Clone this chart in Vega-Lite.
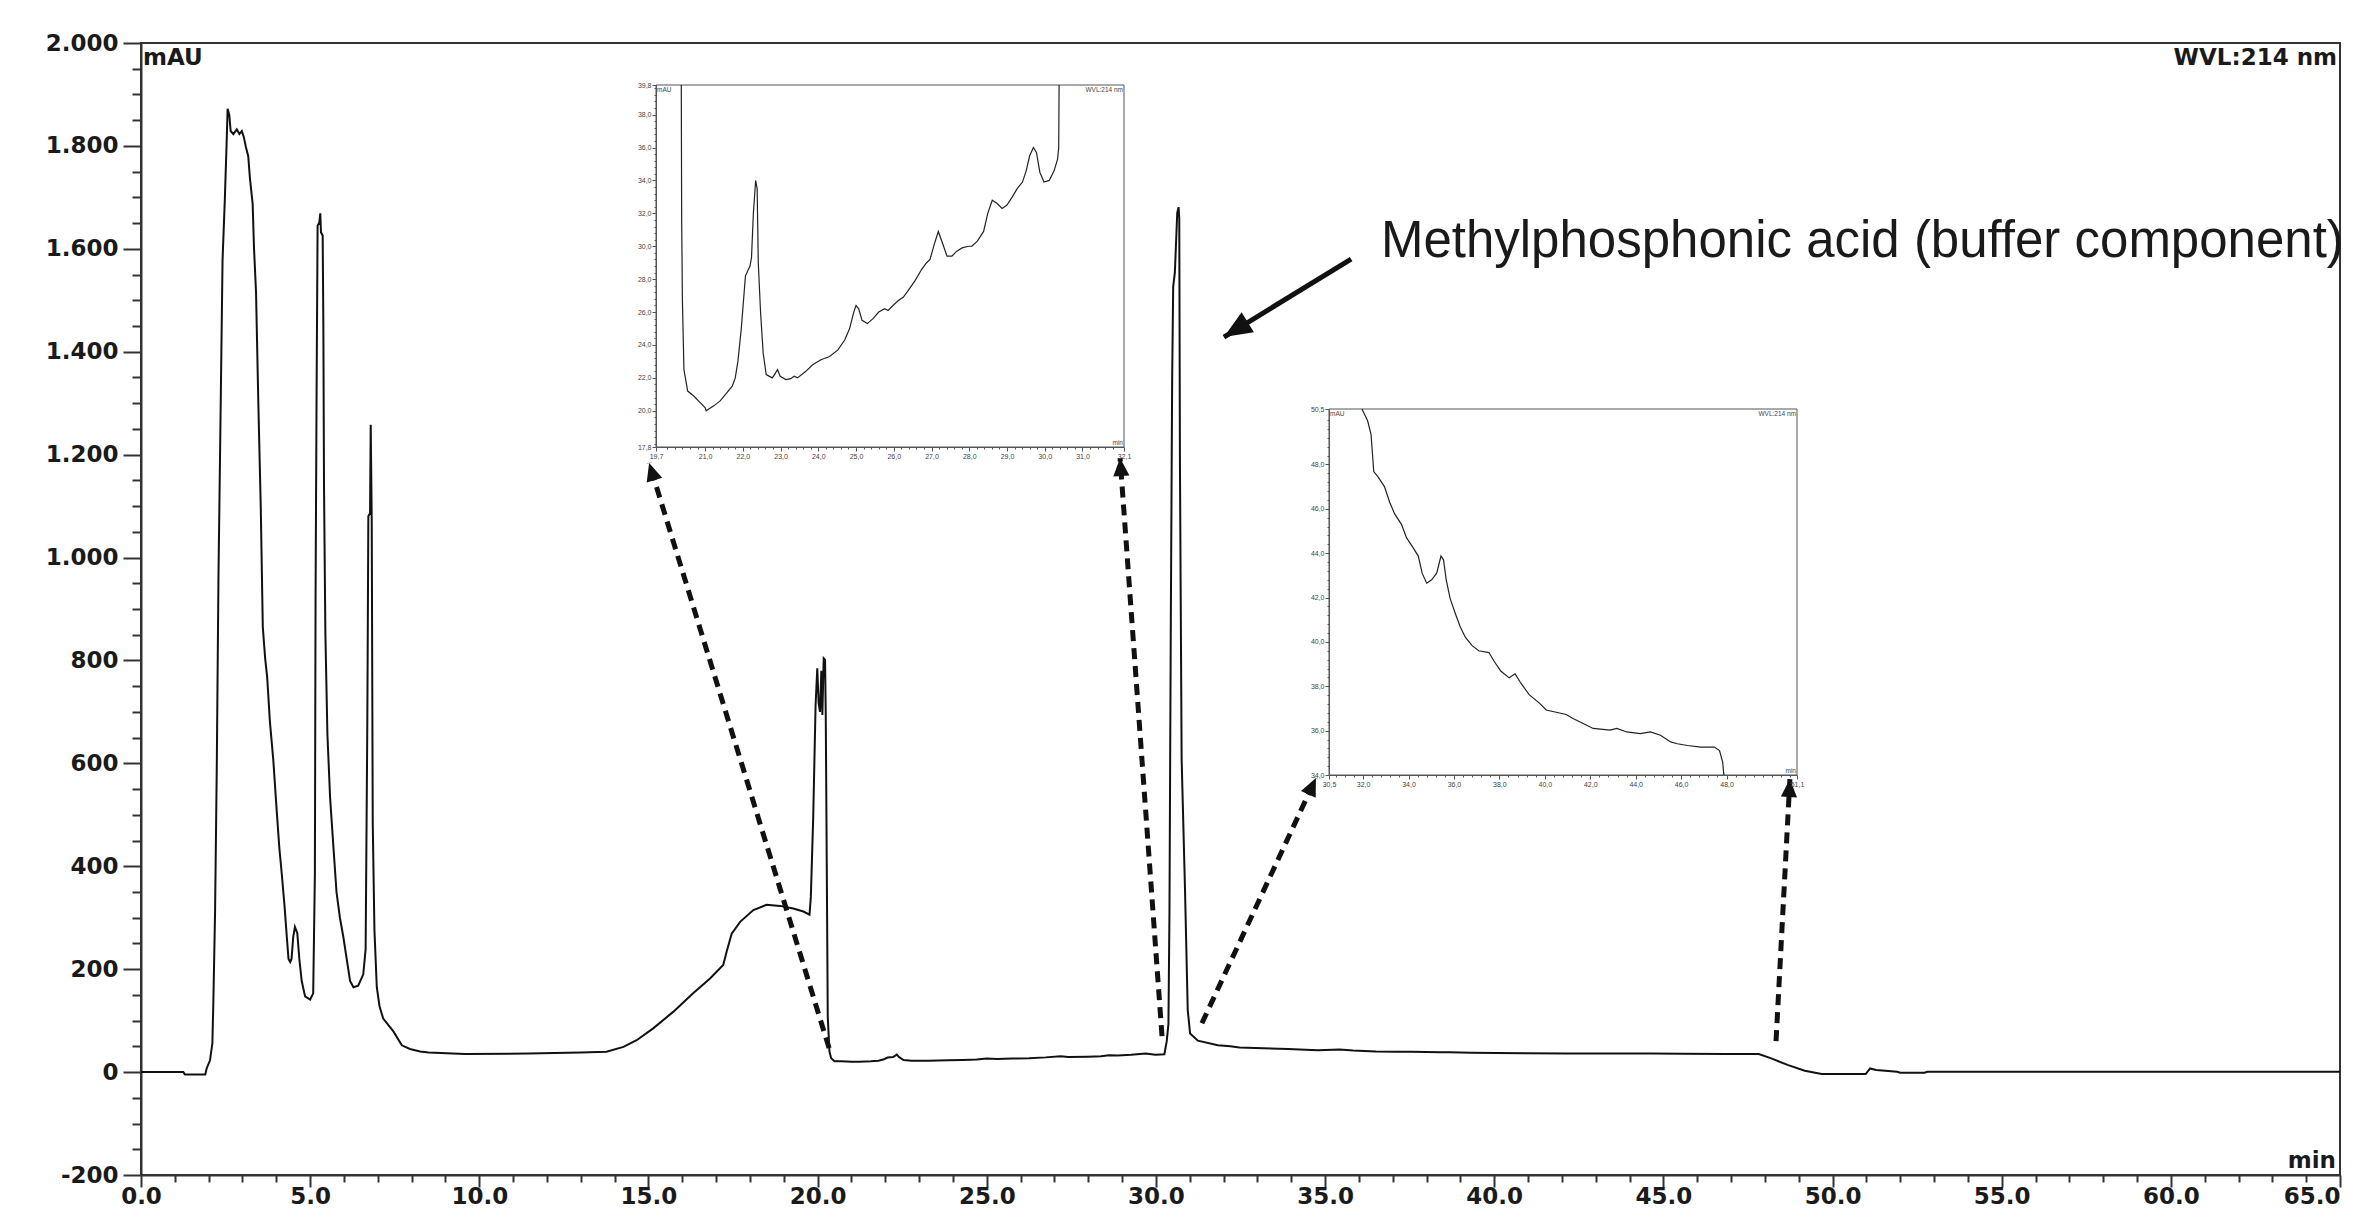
{
  "$schema": "https://vega.github.io/schema/vega-lite/v6.json",
  "width": 2199,
  "height": 1132,
  "autosize": {"type": "none"},
  "padding": {"left": 141, "top": 43, "right": 18, "bottom": 34},
  "background": "white",
  "config": {
    "view": {"stroke": "#333", "strokeWidth": 2},
    "axis": {
      "grid": false,
      "domainColor": "#333",
      "tickColor": "#333",
      "labelColor": "#1a1a1a",
      "labelFont": "DejaVu Sans",
      "labelFontWeight": "bold",
      "labelFontSize": 23,
      "domainWidth": 2,
      "tickWidth": 2,
      "labelOverlap": false,
      "labelFlush": false,
      "labelBound": false
    }
  },
  "datasets": {
    "trace": [
      {"t": 0, "v": 0}, {"t": 1.25, "v": 0}, {"t": 1.3, "v": -4.5}, {"t": 1.9, "v": -4.5},
      {"t": 1.94, "v": 7}, {"t": 2.04, "v": 23}, {"t": 2.11, "v": 56}, {"t": 2.14, "v": 140},
      {"t": 2.19, "v": 313}, {"t": 2.24, "v": 595}, {"t": 2.29, "v": 963}, {"t": 2.36, "v": 1319},
      {"t": 2.41, "v": 1577}, {"t": 2.48, "v": 1700}, {"t": 2.53, "v": 1804}, {"t": 2.56, "v": 1872},
      {"t": 2.61, "v": 1860}, {"t": 2.65, "v": 1829}, {"t": 2.73, "v": 1823}, {"t": 2.83, "v": 1832},
      {"t": 2.91, "v": 1823}, {"t": 2.98, "v": 1829}, {"t": 3.04, "v": 1817}, {"t": 3.10, "v": 1798},
      {"t": 3.17, "v": 1780}, {"t": 3.22, "v": 1737}, {"t": 3.30, "v": 1688}, {"t": 3.34, "v": 1602},
      {"t": 3.40, "v": 1516}, {"t": 3.47, "v": 1295}, {"t": 3.54, "v": 1098}, {"t": 3.60, "v": 865},
      {"t": 3.67, "v": 804}, {"t": 3.73, "v": 767}, {"t": 3.81, "v": 681}, {"t": 3.91, "v": 607},
      {"t": 4.01, "v": 509}, {"t": 4.09, "v": 435}, {"t": 4.16, "v": 386}, {"t": 4.24, "v": 325},
      {"t": 4.31, "v": 263}, {"t": 4.36, "v": 220}, {"t": 4.41, "v": 214}, {"t": 4.45, "v": 220},
      {"t": 4.50, "v": 263}, {"t": 4.55, "v": 282}, {"t": 4.62, "v": 270}, {"t": 4.68, "v": 220},
      {"t": 4.75, "v": 177}, {"t": 4.85, "v": 147}, {"t": 5.00, "v": 141}, {"t": 5.09, "v": 153},
      {"t": 5.14, "v": 386}, {"t": 5.16, "v": 926}, {"t": 5.19, "v": 1319}, {"t": 5.22, "v": 1645},
      {"t": 5.27, "v": 1651}, {"t": 5.30, "v": 1669}, {"t": 5.32, "v": 1632}, {"t": 5.37, "v": 1626},
      {"t": 5.39, "v": 1454}, {"t": 5.41, "v": 1135}, {"t": 5.45, "v": 853}, {"t": 5.51, "v": 656},
      {"t": 5.59, "v": 533}, {"t": 5.69, "v": 435}, {"t": 5.78, "v": 349}, {"t": 5.88, "v": 300},
      {"t": 5.98, "v": 263}, {"t": 6.08, "v": 220}, {"t": 6.18, "v": 177}, {"t": 6.28, "v": 165},
      {"t": 6.42, "v": 168}, {"t": 6.57, "v": 190}, {"t": 6.64, "v": 239}, {"t": 6.69, "v": 681},
      {"t": 6.72, "v": 1080}, {"t": 6.77, "v": 1086}, {"t": 6.79, "v": 1258}, {"t": 6.82, "v": 1074},
      {"t": 6.85, "v": 484}, {"t": 6.90, "v": 276}, {"t": 6.97, "v": 165}, {"t": 7.05, "v": 128},
      {"t": 7.16, "v": 104}, {"t": 7.46, "v": 79}, {"t": 7.71, "v": 52}, {"t": 7.95, "v": 45},
      {"t": 8.25, "v": 40}, {"t": 8.5, "v": 38}, {"t": 9.58, "v": 35}, {"t": 11.45, "v": 36},
      {"t": 13.0, "v": 38}, {"t": 13.76, "v": 39.5}, {"t": 14.26, "v": 49}, {"t": 14.65, "v": 62},
      {"t": 15.14, "v": 85}, {"t": 15.73, "v": 117}, {"t": 16.32, "v": 153}, {"t": 16.82, "v": 182},
      {"t": 17.21, "v": 208}, {"t": 17.31, "v": 234}, {"t": 17.46, "v": 269}, {"t": 17.71, "v": 292},
      {"t": 18.1, "v": 315}, {"t": 18.49, "v": 325}, {"t": 18.89, "v": 323}, {"t": 19.28, "v": 318},
      {"t": 19.58, "v": 312}, {"t": 19.76, "v": 306}, {"t": 19.8, "v": 341}, {"t": 19.87, "v": 496},
      {"t": 19.94, "v": 713}, {"t": 19.99, "v": 785}, {"t": 20.03, "v": 717}, {"t": 20.07, "v": 700},
      {"t": 20.11, "v": 780}, {"t": 20.14, "v": 694}, {"t": 20.18, "v": 804}, {"t": 20.22, "v": 801},
      {"t": 20.24, "v": 700}, {"t": 20.27, "v": 406}, {"t": 20.30, "v": 107}, {"t": 20.35, "v": 40},
      {"t": 20.4, "v": 27}, {"t": 20.5, "v": 21.2}, {"t": 20.7, "v": 20.9}, {"t": 21.0, "v": 20.2},
      {"t": 21.23, "v": 20.3}, {"t": 21.58, "v": 21.1}, {"t": 21.8, "v": 22}, {"t": 21.96, "v": 25},
      {"t": 22.07, "v": 28.2}, {"t": 22.23, "v": 29.3}, {"t": 22.34, "v": 34}, {"t": 22.41, "v": 29},
      {"t": 22.54, "v": 23.5}, {"t": 22.78, "v": 22}, {"t": 23.27, "v": 21.95}, {"t": 23.85, "v": 22.8},
      {"t": 24.3, "v": 23.3}, {"t": 24.7, "v": 24.3}, {"t": 25.0, "v": 26.4}, {"t": 25.3, "v": 25.3},
      {"t": 25.76, "v": 26.2}, {"t": 26.25, "v": 26.9}, {"t": 26.74, "v": 28.6}, {"t": 27.18, "v": 30.9},
      {"t": 27.41, "v": 29.4}, {"t": 27.98, "v": 30.0}, {"t": 28.38, "v": 30.9}, {"t": 28.61, "v": 32.8},
      {"t": 28.87, "v": 32.3}, {"t": 29.27, "v": 33.5}, {"t": 29.7, "v": 36}, {"t": 29.98, "v": 33.9},
      {"t": 30.25, "v": 34.6}, {"t": 30.32, "v": 60}, {"t": 30.37, "v": 94}, {"t": 30.40, "v": 309},
      {"t": 30.44, "v": 873}, {"t": 30.48, "v": 1349}, {"t": 30.51, "v": 1526}, {"t": 30.56, "v": 1554},
      {"t": 30.63, "v": 1670}, {"t": 30.67, "v": 1681}, {"t": 30.69, "v": 1659}, {"t": 30.71, "v": 1183},
      {"t": 30.76, "v": 608}, {"t": 30.86, "v": 354}, {"t": 30.94, "v": 121}, {"t": 31.01, "v": 75},
      {"t": 31.24, "v": 61}, {"t": 31.83, "v": 52}, {"t": 32.2, "v": 50}, {"t": 32.47, "v": 47.7},
      {"t": 33.17, "v": 46.3}, {"t": 33.91, "v": 44.7}, {"t": 34.6, "v": 43.1}, {"t": 34.8, "v": 42.65},
      {"t": 35.43, "v": 43.9}, {"t": 35.83, "v": 42}, {"t": 36.5, "v": 40.2}, {"t": 37.09, "v": 39.6},
      {"t": 37.54, "v": 39.5}, {"t": 38.43, "v": 38.4}, {"t": 38.69, "v": 38.6}, {"t": 39.31, "v": 37.6},
      {"t": 40.06, "v": 36.9}, {"t": 40.94, "v": 36.7}, {"t": 42.13, "v": 36.1}, {"t": 43.17, "v": 36.1},
      {"t": 44.65, "v": 35.9}, {"t": 45.54, "v": 35.5}, {"t": 46.87, "v": 35.3}, {"t": 47.82, "v": 35.0},
      {"t": 48.19, "v": 26.6}, {"t": 48.69, "v": 13.6}, {"t": 49.18, "v": 2.6}, {"t": 49.68, "v": -3.9},
      {"t": 50.98, "v": -3.9}, {"t": 51.11, "v": 7.1}, {"t": 51.29, "v": 3.9}, {"t": 51.91, "v": 0.6},
      {"t": 52.0, "v": -1.3}, {"t": 52.72, "v": -1.3}, {"t": 52.8, "v": 0.5}, {"t": 65, "v": 0.5}
    ],
    "inset1": [
      {"t": 20.37, "v": 39.8}, {"t": 20.38, "v": 31.6}, {"t": 20.4, "v": 26.7}, {"t": 20.44, "v": 22.5},
      {"t": 20.54, "v": 21.2}, {"t": 20.7, "v": 20.9}, {"t": 20.87, "v": 20.5}, {"t": 21.0, "v": 20.2},
      {"t": 21.03, "v": 20.0}, {"t": 21.23, "v": 20.3}, {"t": 21.4, "v": 20.6}, {"t": 21.58, "v": 21.1},
      {"t": 21.72, "v": 21.5}, {"t": 21.8, "v": 22.0}, {"t": 21.87, "v": 23.0}, {"t": 21.96, "v": 25.0},
      {"t": 22.07, "v": 28.2}, {"t": 22.19, "v": 28.8}, {"t": 22.23, "v": 29.3}, {"t": 22.28, "v": 32.0},
      {"t": 22.34, "v": 34.0}, {"t": 22.38, "v": 33.5}, {"t": 22.41, "v": 29.0}, {"t": 22.47, "v": 26.0},
      {"t": 22.54, "v": 23.5}, {"t": 22.62, "v": 22.2}, {"t": 22.78, "v": 22.0}, {"t": 22.84, "v": 22.2},
      {"t": 22.92, "v": 22.5}, {"t": 22.99, "v": 22.1}, {"t": 23.14, "v": 21.9}, {"t": 23.27, "v": 21.95},
      {"t": 23.36, "v": 22.1}, {"t": 23.45, "v": 22.0}, {"t": 23.67, "v": 22.4}, {"t": 23.85, "v": 22.8},
      {"t": 24.07, "v": 23.1}, {"t": 24.3, "v": 23.3}, {"t": 24.52, "v": 23.7}, {"t": 24.7, "v": 24.3},
      {"t": 24.83, "v": 25.0}, {"t": 24.94, "v": 26.0}, {"t": 25.0, "v": 26.4}, {"t": 25.07, "v": 26.2},
      {"t": 25.16, "v": 25.5}, {"t": 25.3, "v": 25.3}, {"t": 25.45, "v": 25.6}, {"t": 25.6, "v": 26.0},
      {"t": 25.76, "v": 26.2}, {"t": 25.85, "v": 26.1}, {"t": 25.98, "v": 26.4}, {"t": 26.12, "v": 26.7},
      {"t": 26.25, "v": 26.9}, {"t": 26.38, "v": 27.3}, {"t": 26.56, "v": 27.9}, {"t": 26.74, "v": 28.6},
      {"t": 26.87, "v": 29.0}, {"t": 26.96, "v": 29.2}, {"t": 27.07, "v": 30.1}, {"t": 27.18, "v": 30.9},
      {"t": 27.29, "v": 30.2}, {"t": 27.41, "v": 29.4}, {"t": 27.54, "v": 29.4}, {"t": 27.67, "v": 29.7},
      {"t": 27.81, "v": 29.9}, {"t": 27.98, "v": 30.0}, {"t": 28.07, "v": 30.0}, {"t": 28.21, "v": 30.3},
      {"t": 28.38, "v": 30.9}, {"t": 28.49, "v": 32.0}, {"t": 28.61, "v": 32.8}, {"t": 28.74, "v": 32.6},
      {"t": 28.87, "v": 32.3}, {"t": 29.0, "v": 32.5}, {"t": 29.14, "v": 33.0}, {"t": 29.27, "v": 33.5},
      {"t": 29.41, "v": 33.9}, {"t": 29.51, "v": 34.6}, {"t": 29.6, "v": 35.5}, {"t": 29.7, "v": 36.0},
      {"t": 29.78, "v": 35.7}, {"t": 29.87, "v": 34.5}, {"t": 29.98, "v": 33.9}, {"t": 30.12, "v": 34.0},
      {"t": 30.25, "v": 34.6}, {"t": 30.34, "v": 35.3}, {"t": 30.37, "v": 36.0}, {"t": 30.38, "v": 39.8}
    ],
    "inset2": [
      {"t": 31.95, "v": 50.5}, {"t": 32.2, "v": 49.97}, {"t": 32.35, "v": 49.36}, {"t": 32.47, "v": 47.68},
      {"t": 32.65, "v": 47.45}, {"t": 32.94, "v": 47.0}, {"t": 33.17, "v": 46.3}, {"t": 33.39, "v": 45.77},
      {"t": 33.69, "v": 45.3}, {"t": 33.91, "v": 44.7}, {"t": 34.2, "v": 44.25}, {"t": 34.43, "v": 43.87},
      {"t": 34.6, "v": 43.1}, {"t": 34.8, "v": 42.65}, {"t": 35.02, "v": 42.8}, {"t": 35.24, "v": 43.1},
      {"t": 35.43, "v": 43.87}, {"t": 35.54, "v": 43.7}, {"t": 35.66, "v": 42.8}, {"t": 35.83, "v": 41.96},
      {"t": 36.06, "v": 41.28}, {"t": 36.28, "v": 40.67}, {"t": 36.5, "v": 40.21}, {"t": 36.8, "v": 39.83},
      {"t": 37.09, "v": 39.6}, {"t": 37.54, "v": 39.52}, {"t": 37.76, "v": 39.14}, {"t": 38.06, "v": 38.69},
      {"t": 38.43, "v": 38.38}, {"t": 38.69, "v": 38.56}, {"t": 38.94, "v": 38.15}, {"t": 39.31, "v": 37.62},
      {"t": 39.76, "v": 37.24}, {"t": 40.06, "v": 36.93}, {"t": 40.5, "v": 36.83}, {"t": 40.94, "v": 36.73},
      {"t": 41.24, "v": 36.55}, {"t": 41.69, "v": 36.32}, {"t": 42.13, "v": 36.1}, {"t": 42.87, "v": 36.02},
      {"t": 43.17, "v": 36.1}, {"t": 43.61, "v": 35.94}, {"t": 44.2, "v": 35.87}, {"t": 44.65, "v": 35.94},
      {"t": 45.09, "v": 35.79}, {"t": 45.54, "v": 35.49}, {"t": 45.83, "v": 35.41}, {"t": 46.28, "v": 35.33},
      {"t": 46.87, "v": 35.26}, {"t": 47.46, "v": 35.26}, {"t": 47.69, "v": 35.1}, {"t": 47.83, "v": 34.57},
      {"t": 47.88, "v": 34.0}
    ],
    "dashed": [
      {"t0": 20.34, "v0": 46.6, "t1": 15.02, "v1": 1183.7, "dir": 342.9},
      {"t0": 30.18, "v0": 70, "t1": 28.94, "v1": 1193.4, "dir": 355.8},
      {"t0": 31.36, "v0": 95, "t1": 34.73, "v1": 571.4, "dir": 25},
      {"t0": 48.33, "v0": 60.3, "t1": 48.74, "v1": 569.5, "dir": 3.1}
    ],
    "pointer": [
      {"t0": 35.77, "v0": 1580, "t1": 32.01, "v1": 1428.6, "dir": 238.4}
    ]
  },
  "resolve": {
    "scale": {"x": "independent", "y": "independent"},
    "axis": {"x": "independent", "y": "independent"}
  },
  "layer": [
    {
      "data": {"name": "trace"},
      "mark": {"type": "line", "color": "#111", "strokeWidth": 2},
      "encoding": {
        "x": {
          "field": "t", "type": "quantitative",
          "scale": {"domain": [0, 65], "nice": false, "zero": false},
          "axis": {
            "orient": "bottom", "title": null,
            "values": [0,5,10,15,20,25,30,35,40,45,50,55,60,65],
            "tickSize": 12, "labelPadding": -2, "format": ".1f",
            "labelAlign": {"condition": {"test": "datum.value === 65", "value": "right"}, "value": "center"}
          }
        },
        "y": {
          "field": "v", "type": "quantitative",
          "scale": {"domain": [-200, 2000], "nice": false, "zero": false},
          "axis": {
            "orient": "left", "title": null,
            "values": [-200,0,200,400,600,800,1000,1200,1400,1600,1800,2000],
            "tickSize": 18, "labelPadding": 5,
            "labelExpr": "replace(replace(format(datum.value, ','), ',', '.'), '\u2212', '-')"
          }
        }
      }
    },
    {
      "data": {"name": "trace"},
      "mark": {"type": "line", "opacity": 0},
      "encoding": {
        "x": {
          "field": "t", "type": "quantitative",
          "scale": {"domain": [0, 65], "nice": false, "zero": false},
          "axis": {
            "orient": "bottom", "title": null, "labels": false, "domain": false, "tickSize": 7,
            "values": [1,2,3,4,6,7,8,9,11,12,13,14,16,17,18,19,21,22,23,24,26,27,28,29,31,32,33,34,36,37,38,39,41,42,43,44,46,47,48,49,51,52,53,54,56,57,58,59,61,62,63,64]
          }
        },
        "y": {
          "field": "v", "type": "quantitative",
          "scale": {"domain": [-200, 2000], "nice": false, "zero": false},
          "axis": {
            "orient": "left", "title": null, "labels": false, "domain": false, "tickSize": 9,
            "values": [-150,-100,-50,50,100,150,250,300,350,450,500,550,650,700,750,850,900,950,1050,1100,1150,1250,1300,1350,1450,1500,1550,1650,1700,1750,1850,1900,1950]
          }
        }
      }
    },
    {
      "data": {"name": "dashed"},
      "mark": {"type": "rule", "color": "#111", "strokeWidth": 5, "strokeDash": [11, 7]},
      "encoding": {
        "x": {"field": "t0", "type": "quantitative", "scale": {"domain": [0, 65], "nice": false, "zero": false}, "axis": null},
        "y": {"field": "v0", "type": "quantitative", "scale": {"domain": [-200, 2000], "nice": false, "zero": false}, "axis": null},
        "x2": {"field": "t1"},
        "y2": {"field": "v1"}
      }
    },
    {
      "data": {"name": "dashed"},
      "mark": {"type": "point", "shape": "M0,0L0.45,1L-0.45,1Z", "filled": true, "size": 1296, "color": "#111", "opacity": 1, "strokeWidth": 0},
      "encoding": {
        "x": {"field": "t1", "type": "quantitative", "scale": {"domain": [0, 65], "nice": false, "zero": false}, "axis": null},
        "y": {"field": "v1", "type": "quantitative", "scale": {"domain": [-200, 2000], "nice": false, "zero": false}, "axis": null},
        "angle": {"field": "dir", "type": "quantitative", "scale": null}
      }
    },
    {
      "data": {"name": "pointer"},
      "mark": {"type": "rule", "color": "#111", "strokeWidth": 5},
      "encoding": {
        "x": {"field": "t0", "type": "quantitative", "scale": {"domain": [0, 65], "nice": false, "zero": false}, "axis": null},
        "y": {"field": "v0", "type": "quantitative", "scale": {"domain": [-200, 2000], "nice": false, "zero": false}, "axis": null},
        "x2": {"field": "t1"},
        "y2": {"field": "v1"}
      }
    },
    {
      "data": {"name": "pointer"},
      "mark": {"type": "point", "shape": "M0,0L0.42,1L-0.42,1Z", "filled": true, "size": 3136, "color": "#111", "opacity": 1, "strokeWidth": 0},
      "encoding": {
        "x": {"field": "t1", "type": "quantitative", "scale": {"domain": [0, 65], "nice": false, "zero": false}, "axis": null},
        "y": {"field": "v1", "type": "quantitative", "scale": {"domain": [-200, 2000], "nice": false, "zero": false}, "axis": null},
        "angle": {"field": "dir", "type": "quantitative", "scale": null}
      }
    },
    {
      "data": {"values": [{}]},
      "mark": {"type": "text", "text": "Methylphosphonic acid (buffer component)", "font": "Liberation Sans", "fontSize": 51, "align": "left", "baseline": "alphabetic", "color": "#1a1a1a"},
      "encoding": {
        "x": {"datum": 36.65, "type": "quantitative", "scale": {"domain": [0, 65], "nice": false, "zero": false}, "axis": null},
        "y": {"datum": 1584, "type": "quantitative", "scale": {"domain": [-200, 2000], "nice": false, "zero": false}, "axis": null}
      }
    },
    {
      "data": {"values": [{}]},
      "mark": {"type": "text", "text": "mAU", "font": "DejaVu Sans", "fontWeight": "bold", "fontSize": 23, "align": "left", "baseline": "alphabetic", "dx": 2, "dy": 22, "color": "#1a1a1a"},
      "encoding": {
        "x": {"datum": 0, "type": "quantitative", "scale": {"domain": [0, 65], "nice": false, "zero": false}, "axis": null},
        "y": {"datum": 2000, "type": "quantitative", "scale": {"domain": [-200, 2000], "nice": false, "zero": false}, "axis": null}
      }
    },
    {
      "data": {"values": [{}]},
      "mark": {"type": "text", "text": "WVL:214 nm", "font": "DejaVu Sans", "fontWeight": "bold", "fontSize": 23, "align": "right", "baseline": "alphabetic", "dx": -3, "dy": 22, "color": "#1a1a1a"},
      "encoding": {
        "x": {"datum": 65, "type": "quantitative", "scale": {"domain": [0, 65], "nice": false, "zero": false}, "axis": null},
        "y": {"datum": 2000, "type": "quantitative", "scale": {"domain": [-200, 2000], "nice": false, "zero": false}, "axis": null}
      }
    },
    {
      "data": {"values": [{}]},
      "mark": {"type": "text", "text": "min", "font": "DejaVu Sans", "fontWeight": "bold", "fontSize": 23, "align": "right", "baseline": "alphabetic", "dx": -4, "dy": -7, "color": "#1a1a1a"},
      "encoding": {
        "x": {"datum": 65, "type": "quantitative", "scale": {"domain": [0, 65], "nice": false, "zero": false}, "axis": null},
        "y": {"datum": -200, "type": "quantitative", "scale": {"domain": [-200, 2000], "nice": false, "zero": false}, "axis": null}
      }
    },
    {
      "data": {"values": [{}]},
      "mark": {"type": "rect", "fill": "white", "stroke": "#555", "strokeWidth": 1},
      "encoding": {
        "x": {"datum": 19.7, "type": "quantitative", "scale": {"domain": [19.7, 32.1], "range": [515, 983], "nice": false, "zero": false}, "axis": null},
        "x2": {"datum": 32.1},
        "y": {"datum": 17.8, "type": "quantitative", "scale": {"domain": [17.8, 39.8], "range": [404, 42], "nice": false, "zero": false}, "axis": null},
        "y2": {"datum": 39.8}
      }
    },
    {
      "data": {"name": "inset1"},
      "mark": {"type": "line", "color": "#222", "strokeWidth": 1.2},
      "encoding": {
        "x": {
          "field": "t", "type": "quantitative",
          "scale": {"domain": [19.7, 32.1], "range": [515, 983], "nice": false, "zero": false},
          "axis": {
            "orient": "bottom", "offset": -728, "title": null, "zindex": 1,
            "values": [19.7,21,22,23,24,25,26,27,28,29,30,31,32.1],
            "tickSize": 4,
            "labelExpr": "replace(format(datum.value, '.1f'), '.', ',')",
            "labelFont": "Liberation Sans", "labelFontWeight": "normal", "labelFontSize": 7, "labelColor": "#444",
            "labelPadding": 1, "tickWidth": 1, "domainWidth": 1, "domainColor": "#555", "tickColor": "#555"
          }
        },
        "y": {
          "field": "v", "type": "quantitative",
          "scale": {"domain": [17.8, 39.8], "range": [404, 42], "nice": false, "zero": false},
          "axis": {
            "orient": "left", "offset": -515, "title": null, "zindex": 1,
            "values": [17.8,20,22,24,26,28,30,32,34,36,38,39.8],
            "tickSize": 4,
            "labelExpr": "replace(format(datum.value, '.1f'), '.', ',')",
            "labelFont": "Liberation Sans", "labelFontWeight": "normal", "labelFontSize": 7, "labelColor": "#444",
            "labelPadding": 1, "tickWidth": 1, "domainWidth": 1, "domainColor": "#555", "tickColor": "#555"
          }
        }
      }
    },
    {
      "data": {"name": "inset1"},
      "mark": {"type": "line", "opacity": 0},
      "encoding": {
        "x": {
          "field": "t", "type": "quantitative",
          "scale": {"domain": [19.7, 32.1], "range": [515, 983], "nice": false, "zero": false},
          "axis": {
            "orient": "bottom", "offset": -728, "title": null, "zindex": 1, "labels": false, "domain": false,
            "values": [20,20.2,20.4,20.6,20.8,21.2,21.4,21.6,21.8,22.2,22.4,22.6,22.8,23.2,23.4,23.6,23.8,24.2,24.4,24.6,24.8,25.2,25.4,25.6,25.8,26.2,26.4,26.6,26.8,27.2,27.4,27.6,27.8,28.2,28.4,28.6,28.8,29.2,29.4,29.6,29.8,30.2,30.4,30.6,30.8,31.2,31.4,31.6,31.8],
            "tickSize": 2, "tickWidth": 1, "tickColor": "#555"
          }
        },
        "y": {
          "field": "v", "type": "quantitative",
          "scale": {"domain": [17.8, 39.8], "range": [404, 42], "nice": false, "zero": false},
          "axis": {
            "orient": "left", "offset": -515, "title": null, "zindex": 1, "labels": false, "domain": false,
            "values": [18,18.4,18.8,19.2,19.6,20.4,20.8,21.2,21.6,22.4,22.8,23.2,23.6,24.4,24.8,25.2,25.6,26.4,26.8,27.2,27.6,28.4,28.8,29.2,29.6,30.4,30.8,31.2,31.6,32.4,32.8,33.2,33.6,34.4,34.8,35.2,35.6,36.4,36.8,37.2,37.6,38.4,38.8,39.2,39.6],
            "tickSize": 2, "tickWidth": 1, "tickColor": "#555"
          }
        }
      }
    },
    {
      "data": {"values": [{}]},
      "mark": {"type": "text", "text": "mAU", "font": "Liberation Sans", "fontSize": 6.5, "align": "left", "baseline": "alphabetic", "dx": 1, "dy": 7, "color": "#444"},
      "encoding": {
        "x": {"datum": 19.7, "type": "quantitative", "scale": {"domain": [19.7, 32.1], "range": [515, 983], "nice": false, "zero": false}, "axis": null},
        "y": {"datum": 39.8, "type": "quantitative", "scale": {"domain": [17.8, 39.8], "range": [404, 42], "nice": false, "zero": false}, "axis": null}
      }
    },
    {
      "data": {"values": [{}]},
      "mark": {"type": "text", "text": "WVL:214 nm", "font": "Liberation Sans", "fontSize": 6.5, "align": "right", "baseline": "alphabetic", "dx": -1, "dy": 7, "color": "#444"},
      "encoding": {
        "x": {"datum": 32.1, "type": "quantitative", "scale": {"domain": [19.7, 32.1], "range": [515, 983], "nice": false, "zero": false}, "axis": null},
        "y": {"datum": 39.8, "type": "quantitative", "scale": {"domain": [17.8, 39.8], "range": [404, 42], "nice": false, "zero": false}, "axis": null}
      }
    },
    {
      "data": {"values": [{}]},
      "mark": {"type": "text", "text": "min", "font": "Liberation Sans", "fontSize": 6.5, "align": "right", "baseline": "alphabetic", "dx": -1, "dy": -2, "color": "#444"},
      "encoding": {
        "x": {"datum": 32.1, "type": "quantitative", "scale": {"domain": [19.7, 32.1], "range": [515, 983], "nice": false, "zero": false}, "axis": null},
        "y": {"datum": 17.8, "type": "quantitative", "scale": {"domain": [17.8, 39.8], "range": [404, 42], "nice": false, "zero": false}, "axis": null}
      }
    },
    {
      "data": {"values": [{}]},
      "mark": {"type": "rect", "fill": "white", "stroke": "#555", "strokeWidth": 1},
      "encoding": {
        "x": {"datum": 30.5, "type": "quantitative", "scale": {"domain": [30.5, 51.1], "range": [1188, 1656], "nice": false, "zero": false}, "axis": null},
        "x2": {"datum": 51.1},
        "y": {"datum": 34.0, "type": "quantitative", "scale": {"domain": [34.0, 50.5], "range": [732, 366], "nice": false, "zero": false}, "axis": null},
        "y2": {"datum": 50.5}
      }
    },
    {
      "data": {"name": "inset2"},
      "mark": {"type": "line", "color": "#222", "strokeWidth": 1.2},
      "encoding": {
        "x": {
          "field": "t", "type": "quantitative",
          "scale": {"domain": [30.5, 51.1], "range": [1188, 1656], "nice": false, "zero": false},
          "axis": {
            "orient": "bottom", "offset": -400, "title": null, "zindex": 1,
            "values": [30.5,32,34,36,38,40,42,44,46,48,51.1],
            "tickSize": 4,
            "labelExpr": "replace(format(datum.value, '.1f'), '.', ',')",
            "labelFont": "Liberation Sans", "labelFontWeight": "normal", "labelFontSize": 7, "labelColor": "#444",
            "labelPadding": 1, "tickWidth": 1, "domainWidth": 1, "domainColor": "#555", "tickColor": "#555"
          }
        },
        "y": {
          "field": "v", "type": "quantitative",
          "scale": {"domain": [34.0, 50.5], "range": [732, 366], "nice": false, "zero": false},
          "axis": {
            "orient": "left", "offset": -1188, "title": null, "zindex": 1,
            "values": [34,36,38,40,42,44,46,48,50.5],
            "tickSize": 4,
            "labelExpr": "replace(format(datum.value, '.1f'), '.', ',')",
            "labelFont": "Liberation Sans", "labelFontWeight": "normal", "labelFontSize": 7, "labelColor": "#444",
            "labelPadding": 1, "tickWidth": 1, "domainWidth": 1, "domainColor": "#555", "tickColor": "#555"
          }
        }
      }
    },
    {
      "data": {"name": "inset2"},
      "mark": {"type": "line", "opacity": 0},
      "encoding": {
        "x": {
          "field": "t", "type": "quantitative",
          "scale": {"domain": [30.5, 51.1], "range": [1188, 1656], "nice": false, "zero": false},
          "axis": {
            "orient": "bottom", "offset": -400, "title": null, "zindex": 1, "labels": false, "domain": false,
            "values": [30.8,31.2,31.6,32.4,32.8,33.2,33.6,34.4,34.8,35.2,35.6,36.4,36.8,37.2,37.6,38.4,38.8,39.2,39.6,40.4,40.8,41.2,41.6,42.4,42.8,43.2,43.6,44.4,44.8,45.2,45.6,46.4,46.8,47.2,47.6,48.4,48.8,49.2,49.6,50,50.4,50.8],
            "tickSize": 2, "tickWidth": 1, "tickColor": "#555"
          }
        },
        "y": {
          "field": "v", "type": "quantitative",
          "scale": {"domain": [34.0, 50.5], "range": [732, 366], "nice": false, "zero": false},
          "axis": {
            "orient": "left", "offset": -1188, "title": null, "zindex": 1, "labels": false, "domain": false,
            "values": [34.4,34.8,35.2,35.6,36.4,36.8,37.2,37.6,38.4,38.8,39.2,39.6,40.4,40.8,41.2,41.6,42.4,42.8,43.2,43.6,44.4,44.8,45.2,45.6,46.4,46.8,47.2,47.6,48.4,48.8,49.2,49.6,50],
            "tickSize": 2, "tickWidth": 1, "tickColor": "#555"
          }
        }
      }
    },
    {
      "data": {"values": [{}]},
      "mark": {"type": "text", "text": "mAU", "font": "Liberation Sans", "fontSize": 6.5, "align": "left", "baseline": "alphabetic", "dx": 1, "dy": 7, "color": "#444"},
      "encoding": {
        "x": {"datum": 30.5, "type": "quantitative", "scale": {"domain": [30.5, 51.1], "range": [1188, 1656], "nice": false, "zero": false}, "axis": null},
        "y": {"datum": 50.5, "type": "quantitative", "scale": {"domain": [34.0, 50.5], "range": [732, 366], "nice": false, "zero": false}, "axis": null}
      }
    },
    {
      "data": {"values": [{}]},
      "mark": {"type": "text", "text": "WVL:214 nm", "font": "Liberation Sans", "fontSize": 6.5, "align": "right", "baseline": "alphabetic", "dx": -1, "dy": 7, "color": "#444"},
      "encoding": {
        "x": {"datum": 51.1, "type": "quantitative", "scale": {"domain": [30.5, 51.1], "range": [1188, 1656], "nice": false, "zero": false}, "axis": null},
        "y": {"datum": 50.5, "type": "quantitative", "scale": {"domain": [34.0, 50.5], "range": [732, 366], "nice": false, "zero": false}, "axis": null}
      }
    },
    {
      "data": {"values": [{}]},
      "mark": {"type": "text", "text": "min", "font": "Liberation Sans", "fontSize": 6.5, "align": "right", "baseline": "alphabetic", "dx": -1, "dy": -2, "color": "#444"},
      "encoding": {
        "x": {"datum": 51.1, "type": "quantitative", "scale": {"domain": [30.5, 51.1], "range": [1188, 1656], "nice": false, "zero": false}, "axis": null},
        "y": {"datum": 34.0, "type": "quantitative", "scale": {"domain": [34.0, 50.5], "range": [732, 366], "nice": false, "zero": false}, "axis": null}
      }
    }
  ]
}
